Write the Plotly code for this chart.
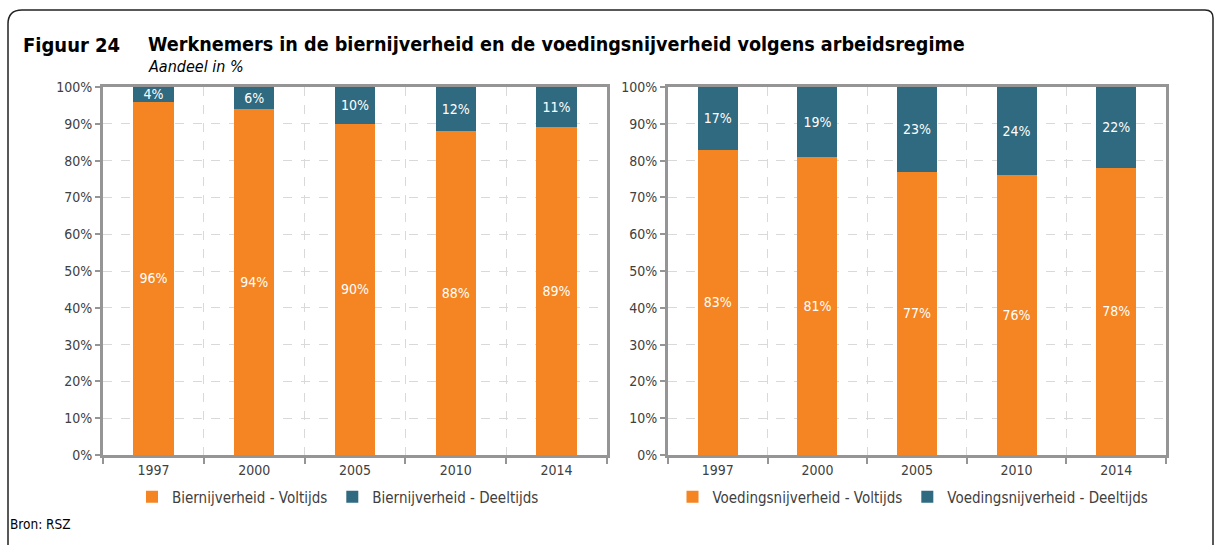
import plotly.graph_objects as go

years = ["1997", "2000", "2005", "2010", "2014"]
bier_voltijds = [96, 94, 90, 88, 89]
bier_deeltijds = [4, 6, 10, 12, 11]
voeding_voltijds = [83, 81, 77, 76, 78]
voeding_deeltijds = [17, 19, 23, 24, 22]
y_ticks = list(range(0, 101, 10))
y_ticktext = [f"{v}%" for v in y_ticks]

ORANGE = "#F58422"
TEAL = "#2F6A80"
FONT = "DejaVu Sans Condensed"
W, H = 1214, 545

xpos = list(range(len(years)))

fig = go.Figure()

def add_bar(x, y, name, color, xa, ya, legend):
    fig.add_trace(go.Bar(
        x=x, y=y, name=name, marker=dict(color=color, line=dict(width=0)),
        xaxis=xa, yaxis=ya, legend=legend,
        texttemplate="%{y:.0f}%", textposition="inside", insidetextanchor="middle",
        textfont=dict(color="white", size=14, family=FONT), textangle=0,
        constraintext="none",
    ))

add_bar(xpos, bier_voltijds, "Biernijverheid - Voltijds", ORANGE, "x", "y", "legend")
add_bar(xpos, bier_deeltijds, "Biernijverheid - Deeltijds", TEAL, "x", "y", "legend")
add_bar(xpos, voeding_voltijds, "Voedingsnijverheid - Voltijds", ORANGE, "x2", "y2", "legend2")
add_bar(xpos, voeding_deeltijds, "Voedingsnijverheid - Deeltijds", TEAL, "x2", "y2", "legend2")

ydom = [(H - 455) / H, (H - 87) / H]
xdom1 = [103 / W, 607 / W]
xdom2 = [668 / W, 1166 / W]

boundaries = [i + 0.5 for i in range(-1, len(years))]

def xaxis_cfg(dom, anchor):
    return dict(
        domain=dom, anchor=anchor, range=[-0.5, len(years) - 0.5],
        tickvals=xpos, ticktext=years, ticks="", showgrid=False,
        showline=True, linecolor="#959595", linewidth=3, mirror=True,
        tickfont=dict(size=14, color="#404040", family=FONT),
        zeroline=False, fixedrange=True,
        minor=dict(tickvals=boundaries, ticks="outside", ticklen=6, tickcolor="#959595",
                   tickwidth=2, showgrid=True, gridcolor="#d9d9d9", griddash="dash", gridwidth=1),
    )

def yaxis_cfg(anchor):
    return dict(
        domain=ydom, anchor=anchor, range=[0, 100],
        tickvals=y_ticks, ticktext=y_ticktext, ticks="outside", ticklen=5,
        tickcolor="#959595", tickwidth=2,
        showgrid=True, gridcolor="#d9d9d9", griddash="dash", gridwidth=1,
        showline=True, linecolor="#959595", linewidth=3, mirror=True,
        tickfont=dict(size=14, color="#404040", family=FONT),
        zeroline=False, fixedrange=True,
    )

legend_common = dict(orientation="h", xanchor="center", yanchor="middle",
                     font=dict(size=15, color="#404040", family=FONT),
                     bgcolor="rgba(0,0,0,0)", itemwidth=30, tracegroupgap=0,
                     traceorder="normal",
                     itemclick=False, itemdoubleclick=False)

fig.update_layout(
    width=W, height=H, autosize=False,
    margin=dict(l=0, r=0, t=0, b=0, autoexpand=False),
    paper_bgcolor="white", plot_bgcolor="white",
    barmode="stack", bargap=0.6,
    showlegend=True,
    uniformtext=dict(minsize=14, mode="show"),
    xaxis=xaxis_cfg(xdom1, "y"), yaxis=yaxis_cfg("x"),
    xaxis2=xaxis_cfg(xdom2, "y2"), yaxis2=yaxis_cfg("x2"),
    legend=dict(x=338 / W, y=(H - 497) / H, **legend_common),
    legend2=dict(x=913 / W, y=(H - 497) / H, **legend_common),
    font=dict(family=FONT),
)

# rounded frame
r = 14
fig.add_shape(type="path", xref="paper", yref="paper",
              path=(f"M {8/W} 0 L {8/W} {1 - (10 + r)/H} "
                    f"Q {8/W} {1 - 10/H} {(8 + r)/W} {1 - 10/H} "
                    f"L {(1213 - 8)/W} {1 - 10/H} Q {1213/W} {1 - 10/H} {1213/W} {1 - 18/H} "
                    f"L {1213/W} 0"),
              line=dict(color="#222222", width=1.5))

fig.add_annotation(text="<b>Figuur 24</b>", xref="paper", yref="paper",
                   x=21 / W, y=1 - 45 / H, xanchor="left", yanchor="middle",
                   showarrow=False, font=dict(size=20, color="black", family=FONT))
fig.add_annotation(text="<b>Werknemers in de biernijverheid en de voedingsnijverheid volgens arbeidsregime</b>",
                   xref="paper", yref="paper",
                   x=146 / W, y=1 - 45 / H, xanchor="left", yanchor="middle",
                   showarrow=False, font=dict(size=19.6, color="black", family=FONT))
fig.add_annotation(text="<i>Aandeel in %</i>", xref="paper", yref="paper",
                   x=146 / W, y=1 - 66 / H, xanchor="left", yanchor="middle",
                   showarrow=False, font=dict(size=16, color="black", family=FONT))
fig.add_annotation(text="Bron: RSZ", xref="paper", yref="paper",
                   x=8 / W, y=1 - 524 / H, xanchor="left", yanchor="middle",
                   showarrow=False, font=dict(size=13.5, color="black", family=FONT))

fig.write_html("out.html", config={"displayModeBar": False},
               post_script="document.body.style.margin='0px';")
